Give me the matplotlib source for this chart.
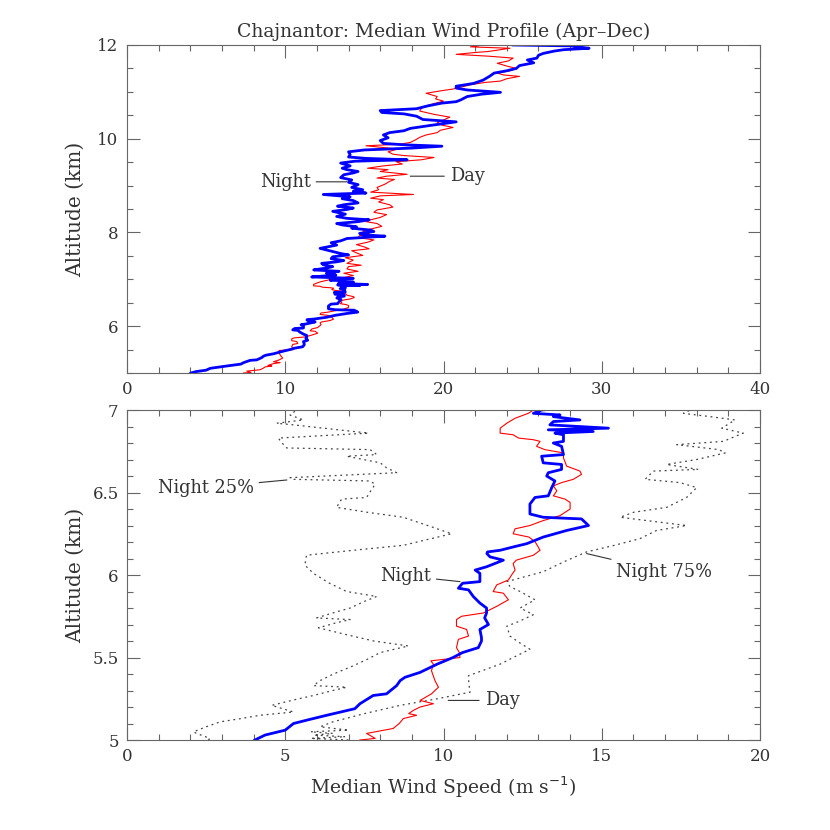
import numpy as np
import matplotlib.pyplot as plt
from matplotlib.ticker import MultipleLocator

# Median night profile (altitude km, speed m/s)
night_alt = [5.00, 5.03, 5.06, 5.10, 5.12, 5.15, 5.19, 5.22, 5.27, 5.28, 5.33, 5.36, 5.38, 5.41,
             5.46, 5.50, 5.53, 5.56, 5.60, 5.62, 5.67, 5.70, 5.74, 5.77, 5.80, 5.83, 5.87, 5.91,
             5.92, 5.95, 5.96, 6.01, 6.03, 6.05, 6.09, 6.11, 6.13, 6.14, 6.15, 6.17, 6.19, 6.23,
             6.27, 6.30, 6.34, 6.35, 6.37, 6.43, 6.47, 6.48, 6.53, 6.57, 6.60, 6.62, 6.64, 6.67,
             6.68, 6.72, 6.73, 6.78, 6.80, 6.81, 6.85, 6.86, 6.87, 6.88, 6.89, 6.91, 6.93, 6.94,
             6.96, 6.97, 6.98, 7.00,
             7.02, 7.05, 7.09, 7.13, 7.17, 7.20, 7.24, 7.27, 7.31, 7.34, 7.37, 7.40, 7.44, 7.48,
             7.52, 7.55, 7.60, 7.66, 7.70, 7.73, 7.78, 7.82, 7.87, 7.92, 7.95, 7.98, 8.02, 8.05,
             8.09, 8.12, 8.16, 8.19, 8.23, 8.27, 8.30, 8.34, 8.39, 8.45, 8.49, 8.52, 8.56, 8.59,
             8.63, 8.68, 8.72, 8.76, 8.81, 8.84, 8.88, 8.91, 8.96, 9.02, 9.07, 9.12, 9.17, 9.23,
             9.27, 9.30, 9.34, 9.37, 9.42, 9.48, 9.52, 9.55, 9.58, 9.61,
             9.66, 9.72, 9.76, 9.80, 9.84, 9.87,
             9.90, 9.96, 10.02, 10.08, 10.13, 10.17, 10.22, 10.28, 10.36, 10.41, 10.48, 10.53,
             10.56, 10.60, 10.64, 10.70, 10.76, 10.79, 10.83, 10.90, 10.95, 10.99, 11.04, 11.08,
             11.12, 11.18, 11.25, 11.33, 11.40, 11.45, 11.50, 11.56, 11.62, 11.68, 11.72, 11.78,
             11.82, 11.87, 11.90, 11.93, 11.96, 11.98, 12.00]
night = [4.04, 4.36, 5.0, 5.26, 5.67, 6.31, 7.2, 7.36, 7.78, 8.2, 8.52, 8.63, 8.78, 9.26,
         9.8, 10.3, 10.6, 11.1, 11.2, 11.2, 11.15, 11.42, 11.3, 11.36, 11.36, 11.15, 10.94, 10.79,
         10.47, 10.6, 11.15, 11.15, 11.0, 11.36, 11.89, 11.47, 11.37, 11.39, 11.79, 12.2, 12.63, 13.15,
         13.89, 14.58, 14.36, 13.15, 12.73, 12.73, 12.89, 13.31, 13.42, 13.52, 13.26, 13.31, 13.73, 13.73,
         13.15, 13.1, 13.79, 13.73, 13.47, 13.79, 13.79, 13.52, 14.73, 13.31, 15.21, 13.36, 13.47, 14.31,
         13.47, 13.68, 12.84, 13.1,
         14.3, 11.67, 13.2, 12.6, 13.4, 11.8, 12.6, 13.0, 12.4, 12.3, 13.2, 13.7, 12.9, 13.0,
         14.0, 13.5, 12.9, 12.2, 12.8, 13.25, 12.9, 13.5, 13.9, 16.3, 14.9, 14.7, 15.6, 15.4,
         14.2, 14.5, 13.6, 13.25, 14.6, 15.3, 13.9, 13.25, 13.8, 13.0, 13.9, 14.3, 13.3, 13.7,
         14.6, 14.3, 13.6, 14.1, 12.4, 15.1, 14.3, 14.9, 14.2, 14.6, 14.0, 14.2, 13.5, 13.7,
         14.3, 14.6, 13.9, 13.6, 14.1, 13.5, 14.4, 17.7, 15.1, 14.0,
         14.1, 14.0, 15.0, 18.0, 19.9, 17.5,
         16.2, 16.0, 16.5, 16.2, 16.6, 17.5, 17.9, 19.1, 20.8, 18.7, 18.3, 17.5,
         16.1, 16.0, 18.3, 19.0, 19.9, 20.8, 21.1, 21.5, 22.4, 23.6, 21.5, 20.8,
         20.8, 21.9, 22.5, 22.9, 23.2, 24.0, 24.6, 24.8, 25.7, 25.3, 25.9, 26.0,
         26.3, 27.0, 27.6, 29.2, 28.5, 28.1, 24.4]

# Median day profile
day_alt = [5.00, 5.01, 5.04, 5.07, 5.10, 5.13, 5.15, 5.16, 5.18, 5.20, 5.22, 5.24, 5.28, 5.32,
           5.36, 5.42, 5.46, 5.48, 5.50, 5.53, 5.56, 5.61, 5.63, 5.67, 5.69, 5.73, 5.75, 5.77,
           5.81, 5.85, 5.89, 5.90, 5.94, 5.97, 6.00, 6.03, 6.07, 6.09, 6.12, 6.15, 6.20, 6.23,
           6.25, 6.28, 6.30, 6.33, 6.36, 6.40, 6.44, 6.46, 6.48, 6.51, 6.54, 6.56, 6.58, 6.61,
           6.63, 6.66, 6.71, 6.74, 6.76, 6.78, 6.81, 6.82, 6.83, 6.85, 6.86, 6.89, 6.92, 6.95,
           6.98, 7.00,
           7.03, 7.08, 7.13, 7.17, 7.22, 7.27, 7.30, 7.34, 7.41, 7.46, 7.51, 7.55, 7.61, 7.65,
           7.69, 7.74, 7.79, 7.84, 7.89, 7.93, 7.98, 8.03, 8.08, 8.13, 8.19, 8.23, 8.27, 8.32,
           8.38, 8.43, 8.48, 8.54, 8.59, 8.65, 8.70, 8.73, 8.78, 8.81, 8.86, 8.91, 8.96, 9.03,
           9.09, 9.13, 9.16, 9.20, 9.24, 9.30, 9.34, 9.37, 9.42, 9.46, 9.51, 9.55,
           9.60, 9.64, 9.67, 9.72, 9.78, 9.85, 9.88, 9.92, 9.97, 10.03, 10.08,
           10.13, 10.18, 10.24, 10.29, 10.34, 10.40, 10.46, 10.52, 10.59, 10.65, 10.70, 10.75,
           10.80, 10.85, 10.90, 10.97, 11.02, 11.06, 11.10, 11.15, 11.20, 11.23, 11.28, 11.33,
           11.36, 11.40, 11.45, 11.50, 11.55, 11.61, 11.66, 11.72, 11.76, 11.80, 11.84, 11.86,
           11.90, 11.93, 11.96, 12.00]
day = [7.36, 7.84, 7.57, 8.41, 8.6, 8.73, 9.15, 8.9, 9.05, 9.26, 9.68, 9.26, 9.62, 9.84,
       9.73, 9.62, 9.68, 9.6, 10.52, 10.5, 10.41, 10.47, 10.79, 10.73, 10.41, 10.41, 10.57, 11.26,
       11.68, 12.05, 11.89, 11.57, 11.68, 12.05, 12.15, 12.26, 12.2, 12.3, 12.84, 13.05, 12.9, 12.7,
       12.2, 12.26, 12.73, 13.15, 13.68, 14.0, 14.0, 13.84, 13.47, 13.58, 13.47, 13.73, 14.1, 14.36,
       14.31, 13.89, 13.79, 13.79, 13.2, 12.94, 13.05, 12.84, 12.37, 12.2, 11.79, 11.79, 12.0, 12.26,
       12.68, 12.84,
       13.6, 14.3, 13.7, 14.6, 13.9, 14.0, 14.8, 13.9, 14.3, 13.8, 14.9, 14.6, 14.2, 15.3,
       15.0, 14.5, 15.2, 15.6, 14.6, 14.7, 15.3, 14.9, 15.5, 16.1, 15.8, 15.1, 15.4, 16.0,
       16.4, 15.6, 15.8, 16.8, 16.6, 15.9, 16.2, 15.4, 16.0, 18.1, 15.4, 15.9, 15.8, 16.3,
       16.6, 16.9, 15.8, 16.4, 17.7, 16.0, 16.5, 15.2, 16.2, 17.4, 17.0, 18.6,
       19.4, 17.5, 16.8, 16.5, 17.1, 15.1, 17.2, 17.9, 18.2, 18.5, 18.9,
       19.6, 19.8, 20.6, 19.9, 19.6, 20.0, 20.4, 19.4, 18.5, 18.6, 18.9, 19.4,
       20.0, 19.5, 19.6, 18.9, 19.8, 20.6, 21.1, 21.7, 22.6, 23.6, 24.0, 24.8,
       23.8, 23.4, 24.2, 24.6, 24.0, 23.4, 24.1, 24.4, 22.9, 20.8, 22.0, 22.8,
       23.6, 24.2, 21.7, 22.5]

# Night quartiles (lower panel only)
q25_alt = [5.00, 5.01, 5.04, 5.05, 5.08, 5.11, 5.13, 5.15, 5.17, 5.21, 5.24, 5.27, 5.30, 5.32,
           5.33, 5.36, 5.40, 5.45, 5.49, 5.53, 5.57, 5.60, 5.64, 5.68, 5.71, 5.73, 5.74, 5.77,
           5.80, 5.84, 5.87, 5.90, 5.95, 6.01, 6.06, 6.12, 6.15, 6.18, 6.22, 6.25, 6.30, 6.35,
           6.38, 6.41, 6.46, 6.47, 6.51, 6.55, 6.57, 6.58, 6.59, 6.62, 6.65, 6.68, 6.72, 6.73,
           6.76, 6.77, 6.80, 6.83, 6.86, 6.91, 6.92, 6.94, 6.97, 7.00]
night_q25 = [2.57, 2.62, 2.2, 2.1, 2.5, 2.94, 3.6, 4.2, 5.26, 4.57, 5.2, 5.89, 6.5, 6.94,
             5.89, 6.1, 6.52, 7.15, 7.6, 8.0, 8.89, 7.8, 6.9, 6.05, 6.6, 7.05, 5.99, 6.5,
             7.05, 7.5, 7.89, 6.94, 6.4, 5.89, 5.62, 5.67, 7.15, 8.73, 9.6, 10.26, 9.5, 8.73,
             7.6, 6.62, 6.78, 7.57, 7.7, 7.84, 7.68, 5.26, 5.15, 8.52, 8.2, 8.0, 6.94, 7.89,
             7.68, 5.05, 4.9, 4.78, 7.63, 5.26, 4.73, 5.57, 5.15, 5.36]

q75_alt = [5.00, 5.01, 5.02, 5.03, 5.04, 5.05, 5.06, 5.08, 5.11, 5.16, 5.21, 5.25, 5.29, 5.34,
           5.39, 5.46, 5.50, 5.55, 5.59, 5.63, 5.69, 5.72, 5.76, 5.80, 5.85, 5.90, 5.93, 5.96,
           6.02, 6.08, 6.14, 6.18, 6.22, 6.27, 6.30, 6.35, 6.38, 6.41, 6.47, 6.53, 6.56, 6.58,
           6.63, 6.64, 6.67, 6.70, 6.74, 6.76, 6.79, 6.81, 6.86, 6.89, 6.94, 6.96, 6.98, 7.00]
night_q75 = [7.0, 5.8, 6.9, 5.9, 6.5, 5.8, 7.0, 6.1, 6.5, 7.5, 8.63, 9.8, 10.84, 10.8,
             10.79, 11.79, 12.2, 12.73, 12.4, 12.1, 12.0, 12.4, 12.84, 12.42, 12.89, 12.42, 12.1, 12.0,
             13.15, 13.8, 14.52, 15.4, 16.2, 16.73, 17.68, 15.58, 16.0, 17.05, 17.68, 18.0, 17.47, 16.37,
             16.63, 18.05, 17.05, 18.0, 18.9, 18.7, 17.37, 18.84, 19.47, 18.79, 19.21, 18.42, 17.58, 17.8]

plt.rcParams['font.family'] = 'DejaVu Serif'
plt.rcParams['font.size'] = 12
ink = '#333333'
frame = '#666666'
note_size = 12.8

fig = plt.figure(figsize=(8.3, 8.3), dpi=100)
ax1 = fig.add_axes([0.153, 0.5506, 0.7627, 0.3952])
ax2 = fig.add_axes([0.153, 0.1084, 0.7627, 0.3976])


def style(ax):
    ax.tick_params(which='both', direction='in', top=True, right=True, colors=frame,
                   labelcolor=ink, labelsize=12)
    ax.tick_params(which='major', length=9, width=0.8, pad=6)
    ax.tick_params(which='minor', length=4.5, width=0.8)
    for s in ax.spines.values():
        s.set_color(frame)
        s.set_linewidth(0.8)


def label(ax, text, xy, xytext, ha):
    ax.annotate(text, xy=xy, xytext=xytext, color=ink, ha=ha, va='center', fontsize=note_size,
                arrowprops=dict(arrowstyle='-', color=ink, lw=0.8, shrinkA=2, shrinkB=0))


# top panel: full profile
ax1.plot(day, day_alt, color='#ff0000', lw=0.8)
ax1.plot(night, night_alt, color='#0000ff', lw=2.0)
ax1.set_xlim(0, 40)
ax1.set_ylim(5, 12)
ax1.xaxis.set_major_locator(MultipleLocator(10))
ax1.xaxis.set_minor_locator(MultipleLocator(2))
ax1.yaxis.set_major_locator(MultipleLocator(2))
ax1.yaxis.set_minor_locator(MultipleLocator(0.5))
style(ax1)
ax1.set_ylabel('Altitude (km)', color=ink, fontsize=14.5)
ax1.yaxis.set_label_coords(-0.066, 0.5)
ax1.set_title('Chajnantor: Median Wind Profile (Apr\u2013Dec)', color=ink, fontsize=13.5, pad=6)
label(ax1, 'Night', (13.9, 9.08), (11.6, 9.08), 'right')
label(ax1, 'Day', (17.9, 9.2), (20.4, 9.2), 'left')

# bottom panel: zoom on 5-7 km with quartiles
ax2.plot(night_q25, q25_alt, color='#444444', lw=0.9, ls=(0, (1.5, 3)))
ax2.plot(night_q75, q75_alt, color='#444444', lw=0.9, ls=(0, (1.5, 3)))
ax2.plot(day, day_alt, color='#ff0000', lw=0.8)
ax2.plot(night, night_alt, color='#0000ff', lw=2.0)
ax2.set_xlim(0, 20)
ax2.set_ylim(5, 7)
ax2.xaxis.set_major_locator(MultipleLocator(5))
ax2.xaxis.set_minor_locator(MultipleLocator(1))
ax2.yaxis.set_major_locator(MultipleLocator(0.5))
ax2.yaxis.set_minor_locator(MultipleLocator(0.1))
ax2.yaxis.set_major_formatter(plt.FuncFormatter(lambda v, p: '%g' % v))
style(ax2)
ax2.set_ylabel('Altitude (km)', color=ink, fontsize=14.5)
ax2.yaxis.set_label_coords(-0.066, 0.5)
ax2.set_xlabel('Median Wind Speed (m s$^{-1}$)', color=ink, fontsize=13.5)
ax2.xaxis.set_label_coords(0.5, -0.105)

label(ax2, 'Night 25%', (5.05, 6.576), (4.0, 6.53), 'right')
label(ax2, 'Night', (10.52, 5.96), (9.6, 5.995), 'right')
label(ax2, 'Day', (10.15, 5.24), (11.3, 5.24), 'left')
label(ax2, 'Night 75%', (14.52, 6.13), (15.45, 6.02), 'left')

fig.savefig('out.png', dpi=100)
